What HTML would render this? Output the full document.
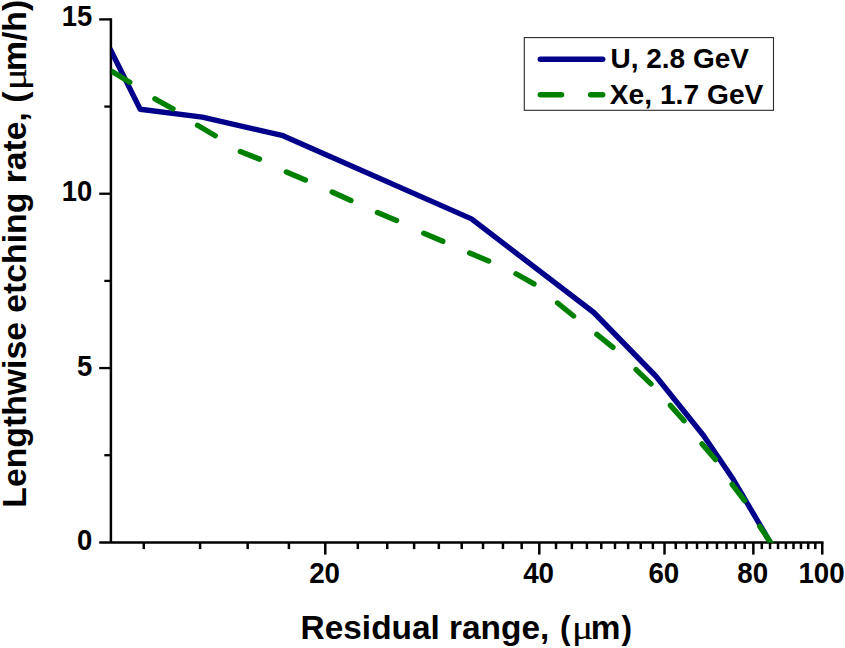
<!DOCTYPE html>
<html><head><meta charset="utf-8"><title>chart</title>
<style>
html,body{margin:0;padding:0;background:#fff;}
body{width:845px;height:648px;overflow:hidden;font-family:"Liberation Sans",sans-serif;}
svg{display:block;}
text{font-family:"Liberation Sans",sans-serif;font-weight:bold;fill:#000;}
.mu{font-family:"Liberation Serif",serif;font-weight:normal;stroke:#000;stroke-width:0.2;}
</style></head><body>
<svg width="845" height="648" viewBox="0 0 845 648">
<rect x="0" y="0" width="845" height="648" fill="#fff"/>
<defs><clipPath id="plot"><rect x="111.4" y="0" width="740" height="542.7"/></clipPath></defs>
<g stroke="#000" fill="none" stroke-linecap="butt">
<line x1="110.9" y1="18.25" x2="110.9" y2="542.50" stroke-width="2.5"/>
<line x1="99.2" y1="542.5" x2="823.50" y2="542.5" stroke-width="2.65"/>
<line x1="99.2" y1="19.40" x2="110.9" y2="19.40" stroke-width="2.3"/>
<line x1="99.2" y1="193.73" x2="110.9" y2="193.73" stroke-width="2.3"/>
<line x1="99.2" y1="368.07" x2="110.9" y2="368.07" stroke-width="2.3"/>
<line x1="104.3" y1="106.57" x2="110.9" y2="106.57" stroke-width="2.3"/>
<line x1="104.3" y1="280.90" x2="110.9" y2="280.90" stroke-width="2.3"/>
<line x1="104.3" y1="455.23" x2="110.9" y2="455.23" stroke-width="2.3"/>
<line x1="143.78" y1="542.5" x2="143.78" y2="549.1" stroke-width="2.5"/>
<line x1="200.08" y1="542.5" x2="200.08" y2="549.1" stroke-width="2.5"/>
<line x1="247.68" y1="542.5" x2="247.68" y2="549.1" stroke-width="2.5"/>
<line x1="288.91" y1="542.5" x2="288.91" y2="549.1" stroke-width="2.5"/>
<line x1="325.28" y1="542.5" x2="325.28" y2="554.6" stroke-width="2.5"/>
<line x1="357.82" y1="542.5" x2="357.82" y2="549.1" stroke-width="2.5"/>
<line x1="387.25" y1="542.5" x2="387.25" y2="549.1" stroke-width="2.5"/>
<line x1="414.11" y1="542.5" x2="414.11" y2="549.1" stroke-width="2.5"/>
<line x1="438.83" y1="542.5" x2="438.83" y2="549.1" stroke-width="2.5"/>
<line x1="461.71" y1="542.5" x2="461.71" y2="549.1" stroke-width="2.5"/>
<line x1="483.02" y1="542.5" x2="483.02" y2="549.1" stroke-width="2.5"/>
<line x1="502.95" y1="542.5" x2="502.95" y2="549.1" stroke-width="2.5"/>
<line x1="521.67" y1="542.5" x2="521.67" y2="549.1" stroke-width="2.5"/>
<line x1="539.31" y1="542.5" x2="539.31" y2="554.6" stroke-width="2.5"/>
<line x1="556.01" y1="542.5" x2="556.01" y2="549.1" stroke-width="2.5"/>
<line x1="571.85" y1="542.5" x2="571.85" y2="549.1" stroke-width="2.5"/>
<line x1="586.91" y1="542.5" x2="586.91" y2="549.1" stroke-width="2.5"/>
<line x1="601.28" y1="542.5" x2="601.28" y2="549.1" stroke-width="2.5"/>
<line x1="615.00" y1="542.5" x2="615.00" y2="549.1" stroke-width="2.5"/>
<line x1="628.15" y1="542.5" x2="628.15" y2="549.1" stroke-width="2.5"/>
<line x1="640.75" y1="542.5" x2="640.75" y2="549.1" stroke-width="2.5"/>
<line x1="652.86" y1="542.5" x2="652.86" y2="549.1" stroke-width="2.5"/>
<line x1="664.52" y1="542.5" x2="664.52" y2="554.6" stroke-width="2.5"/>
<line x1="675.75" y1="542.5" x2="675.75" y2="549.1" stroke-width="2.5"/>
<line x1="686.58" y1="542.5" x2="686.58" y2="549.1" stroke-width="2.5"/>
<line x1="697.05" y1="542.5" x2="697.05" y2="549.1" stroke-width="2.5"/>
<line x1="707.17" y1="542.5" x2="707.17" y2="549.1" stroke-width="2.5"/>
<line x1="716.98" y1="542.5" x2="716.98" y2="549.1" stroke-width="2.5"/>
<line x1="726.48" y1="542.5" x2="726.48" y2="549.1" stroke-width="2.5"/>
<line x1="735.70" y1="542.5" x2="735.70" y2="549.1" stroke-width="2.5"/>
<line x1="744.65" y1="542.5" x2="744.65" y2="549.1" stroke-width="2.5"/>
<line x1="753.35" y1="542.5" x2="753.35" y2="554.6" stroke-width="2.5"/>
<line x1="761.81" y1="542.5" x2="761.81" y2="549.1" stroke-width="2.5"/>
<line x1="770.04" y1="542.5" x2="770.04" y2="549.1" stroke-width="2.5"/>
<line x1="778.06" y1="542.5" x2="778.06" y2="549.1" stroke-width="2.5"/>
<line x1="785.88" y1="542.5" x2="785.88" y2="549.1" stroke-width="2.5"/>
<line x1="793.51" y1="542.5" x2="793.51" y2="549.1" stroke-width="2.5"/>
<line x1="800.95" y1="542.5" x2="800.95" y2="549.1" stroke-width="2.5"/>
<line x1="808.21" y1="542.5" x2="808.21" y2="549.1" stroke-width="2.5"/>
<line x1="815.31" y1="542.5" x2="815.31" y2="549.1" stroke-width="2.5"/>
<line x1="822.25" y1="542.5" x2="822.25" y2="554.6" stroke-width="2.5"/>
</g>
<g clip-path="url(#plot)">
<polyline points="110.0,48.8 140.2,109.3 202.3,117.1 283.0,135.7 471.5,218.9 593.8,312.5 655.7,376.0 703.5,435.5 733.0,479.0 770.0,542.0" fill="none" stroke="#02008a" stroke-width="5.4" stroke-linejoin="round" stroke-linecap="butt"/>
<g stroke="#008000" stroke-width="5.4" stroke-linecap="round" fill="none">
<line x1="112.16" y1="71.52" x2="129.73" y2="82.28"/>
<line x1="154.93" y1="98.88" x2="172.97" y2="108.82"/>
<line x1="197.53" y1="125.27" x2="215.27" y2="135.73"/>
<line x1="240.37" y1="151.57" x2="259.53" y2="159.13"/>
<line x1="286.39" y1="171.93" x2="305.31" y2="180.07"/>
<line x1="332.19" y1="191.95" x2="350.91" y2="200.55"/>
<line x1="377.49" y1="212.59" x2="396.51" y2="220.51"/>
<line x1="423.81" y1="233.35" x2="442.79" y2="241.35"/>
<line x1="469.64" y1="253.05" x2="488.66" y2="260.95"/>
<line x1="516.03" y1="273.74" x2="533.97" y2="283.86"/>
<line x1="557.61" y1="303.00" x2="573.59" y2="316.00"/>
<line x1="596.86" y1="334.46" x2="612.94" y2="347.34"/>
<line x1="636.13" y1="369.63" x2="650.97" y2="383.92"/>
<line x1="670.37" y1="405.34" x2="684.03" y2="420.76"/>
<line x1="702.08" y1="443.93" x2="715.42" y2="459.62"/>
<line x1="732.14" y1="484.28" x2="744.56" y2="500.72"/>
<line x1="759.71" y1="526.16" x2="771.11" y2="543.32"/>
</g>
</g>
<text transform="translate(92.20,26.00) scale(0.96,1)" font-size="28.60" text-anchor="end">15</text>
<text transform="translate(92.20,201.40) scale(0.96,1)" font-size="28.60" text-anchor="end">10</text>
<text transform="translate(92.20,375.70) scale(0.96,1)" font-size="28.60" text-anchor="end">5</text>
<text transform="translate(92.20,549.70) scale(0.96,1)" font-size="28.60" text-anchor="end">0</text>
<text transform="translate(324.58,582.60) scale(0.97,1)" font-size="28.60" text-anchor="middle">20</text>
<text transform="translate(538.61,582.60) scale(0.97,1)" font-size="28.60" text-anchor="middle">40</text>
<text transform="translate(663.82,582.60) scale(0.97,1)" font-size="28.60" text-anchor="middle">60</text>
<text transform="translate(752.65,582.60) scale(0.97,1)" font-size="28.60" text-anchor="middle">80</text>
<text transform="translate(821.55,582.60) scale(0.97,1)" font-size="28.60" text-anchor="middle">100</text>
<text transform="translate(300.60,639.00) scale(1.0,1)" font-size="33.40" text-anchor="start">Residual range,</text>
<text transform="translate(559.90,639.00) scale(0.95,1)" font-size="33.40" text-anchor="start">(</text>
<text class="mu" transform="translate(572.00,639.00) scale(1.18,1)" font-size="33.40" text-anchor="start">&#956;</text>
<text transform="translate(590.80,639.00) scale(1.0,1)" font-size="33.40" text-anchor="start">m</text>
<text transform="translate(621.60,639.00) scale(0.95,1)" font-size="33.40" text-anchor="start">)</text>
<g font-size="33.75" transform="translate(25.9,507.7) rotate(-90) scale(1,1.0)"><text x="0" y="0">Lengthwise etching rate, (</text><text class="mu" transform="translate(417.4,0) scale(1.22,1)" x="0" y="0">&#956;</text><text x="436.6" y="0">m/h)</text></g>
<rect x="524.3" y="37.6" width="249.2" height="72.7" fill="#fff" stroke="#2a2a2a" stroke-width="1.1"/>
<line x1="540.3" y1="59.2" x2="602.7" y2="59.2" stroke="#02008a" stroke-width="5.4" stroke-linecap="round"/>
<line x1="540.3" y1="94.8" x2="561.6" y2="94.8" stroke="#008000" stroke-width="5.4" stroke-linecap="round"/>
<line x1="590.6" y1="94.8" x2="602.7" y2="94.8" stroke="#008000" stroke-width="5.4" stroke-linecap="round"/>
<text transform="translate(610.50,68.20) scale(0.993,1)" font-size="28.20" text-anchor="start">U, 2.8 GeV</text>
<text transform="translate(609.80,103.60) scale(1.0,1)" font-size="28.20" text-anchor="start">Xe, 1.7 GeV</text>
</svg>
</body></html>
